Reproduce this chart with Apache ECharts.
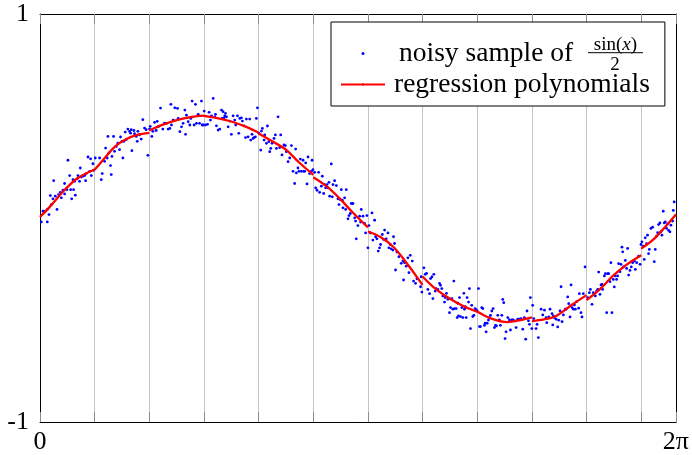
<!DOCTYPE html>
<html><head><meta charset="utf-8">
<script src="https://cdn.jsdelivr.net/npm/echarts@6/dist/echarts.min.js"></script>
<style>html,body{margin:0;padding:0;background:#fff}#c{width:692px;height:455px}</style>
</head><body><div id="c"></div>
<script>
const TWO_PI = 6.283185307179586;
const xTickLabels = { first: '0', last: '2π' };
const yTickLabels = ['-1', '1'];
const seriesNames = ['noisy sample of', 'regression polynomials'];

const sampleA = [[0.013,-0.019],[0.072,-0.019],[0.030,0.033],[0.053,0.033],[0.072,0.042],[0.089,0.017],[0.112,0.066],[0.128,0.094],[0.102,0.110],[0.151,0.107],[0.168,0.042],[0.184,0.115],[0.201,0.126],[0.211,0.099],[0.227,0.136],[0.243,0.118],[0.266,0.139],[0.276,0.283],[0.293,0.208],[0.303,0.139],[0.313,0.094],[0.332,0.139],[0.349,0.112],[0.342,0.180],[0.135,0.183],[0.243,0.169],[0.326,0.188],[0.368,0.192],[0.375,0.208],[0.398,0.245],[0.391,0.180],[0.408,0.201],[0.424,0.205],[0.441,0.208],[0.457,0.218],[0.451,0.183],[0.474,0.299],[0.490,0.229],[0.500,0.290],[0.507,0.208],[0.523,0.266],[0.530,0.234],[0.546,0.294],[0.589,0.294],[0.605,0.188],[0.615,0.218],[0.638,0.278],[0.648,0.343],[0.664,0.294],[0.671,0.400],[0.681,0.319],[0.697,0.257],[0.704,0.213],[0.711,0.302],[0.727,0.400],[0.737,0.327],[0.753,0.351],[0.770,0.367],[0.786,0.335],[0.796,0.397],[0.809,0.376],[0.819,0.294],[0.829,0.376],[0.842,0.421],[0.852,0.384],[0.868,0.436],[0.885,0.425],[0.895,0.416],[0.901,0.433],[0.908,0.330],[0.928,0.429],[0.934,0.413],[0.951,0.400],[0.961,0.376],[0.967,0.425],[0.984,0.408],[1.000,0.387],[1.016,0.482],[1.033,0.441],[1.049,0.433],[1.066,0.307],[1.082,0.436],[1.089,0.449],[1.105,0.400],[1.115,0.425],[1.132,0.469],[1.148,0.429],[1.158,0.474],[1.171,0.449],[1.191,0.539],[1.214,0.436],[1.230,0.465]];

const sampleB = [[1.250,0.464],[1.266,0.436],[1.283,0.439],[1.299,0.456],[1.293,0.557],[1.316,0.480],[1.332,0.540],[1.359,0.537],[1.365,0.488],[1.382,0.423],[1.398,0.447],[1.414,0.464],[1.431,0.529],[1.438,0.410],[1.447,0.504],[1.464,0.472],[1.480,0.456],[1.490,0.488],[1.503,0.573],[1.523,0.456],[1.536,0.557],[1.546,0.464],[1.563,0.508],[1.576,0.464],[1.595,0.573],[1.602,0.456],[1.612,0.456],[1.622,0.524],[1.635,0.456],[1.655,0.459],[1.671,0.518],[1.684,0.480],[1.694,0.501],[1.711,0.586],[1.727,0.496],[1.734,0.508],[1.743,0.452],[1.760,0.431],[1.776,0.436],[1.793,0.529],[1.799,0.488],[1.809,0.521],[1.819,0.491],[1.826,0.501],[1.832,0.513],[1.842,0.496],[1.859,0.447],[1.875,0.475],[1.891,0.410],[1.908,0.501],[1.924,0.480],[1.934,0.456],[1.951,0.501],[1.964,0.415],[1.974,0.488],[1.990,0.491],[2.000,0.475],[2.016,0.452],[2.030,0.394],[2.039,0.485],[2.056,0.398],[2.072,0.485],[2.082,0.382],[2.095,0.410],[2.105,0.390],[2.115,0.394],[2.128,0.398],[2.138,0.488],[2.148,0.540],[2.164,0.415],[2.181,0.333],[2.188,0.426],[2.197,0.439],[2.214,0.382],[2.220,0.407],[2.237,0.366],[2.247,0.451],[2.260,0.374],[2.270,0.325],[2.280,0.341],[2.293,0.366],[2.312,0.390],[2.326,0.407],[2.336,0.341],[2.352,0.496],[2.368,0.345],[2.378,0.407],[2.391,0.309],[2.411,0.358],[2.424,0.355],[2.434,0.325],[2.451,0.276]];

const sampleC = [[2.484,0.355],[2.526,0.338],[2.467,0.294],[2.500,0.229],[2.516,0.169],[2.533,0.221],[2.549,0.245],[2.559,0.229],[2.572,0.289],[2.582,0.229],[2.599,0.283],[2.605,0.229],[2.625,0.270],[2.615,0.229],[2.638,0.167],[2.648,0.299],[2.664,0.218],[2.681,0.229],[2.688,0.283],[2.697,0.237],[2.714,0.224],[2.724,0.148],[2.737,0.136],[2.753,0.224],[2.763,0.126],[2.780,0.156],[2.789,0.205],[2.803,0.120],[2.812,0.164],[2.822,0.148],[2.836,0.164],[2.845,0.148],[2.855,0.175],[2.862,0.107],[2.878,0.265],[2.888,0.104],[2.895,0.164],[2.911,0.183],[2.928,0.159],[2.944,0.094],[2.954,0.066],[2.967,0.090],[2.977,0.139],[2.987,0.087],[2.993,0.050],[3.010,0.099],[3.020,0.042],[3.026,0.139],[3.043,-0.004],[3.053,0.012],[3.066,0.022],[3.076,0.071],[3.092,0.071],[3.109,0.001],[3.118,-0.015],[3.125,-0.102],[3.141,-0.037],[3.158,0.009],[3.168,-0.020],[3.174,0.042],[3.191,0.009],[3.207,-0.027],[3.217,-0.073],[3.230,0.012],[3.240,-0.146],[3.250,-0.037],[3.263,-0.073],[3.280,0.025],[3.289,-0.108],[3.306,-0.011],[3.316,-0.092],[3.329,-0.102],[3.342,-0.162],[3.355,-0.146],[3.365,-0.130],[3.382,-0.081],[3.395,-0.105],[3.405,-0.059],[3.421,-0.102],[3.438,-0.073],[3.447,-0.146],[3.461,-0.130],[3.470,-0.151],[3.487,-0.157],[3.493,-0.092],[3.503,-0.125],[3.513,-0.255],[3.526,-0.167],[3.546,-0.190],[3.569,-0.222],[3.586,-0.211],[3.592,-0.304],[3.602,-0.219],[3.618,-0.236],[3.635,-0.195],[3.645,-0.268],[3.658,-0.183],[3.678,-0.211],[3.691,-0.309],[3.711,-0.320],[3.724,-0.298]];

const sampleD = [[3.760,-0.337],[3.773,-0.363],[3.766,-0.288],[3.793,-0.244],[3.806,-0.276],[3.819,-0.271],[3.832,-0.350],[3.849,-0.371],[3.859,-0.297],[3.872,-0.289],[3.882,-0.395],[3.891,-0.276],[3.905,-0.358],[3.914,-0.346],[3.931,-0.350],[3.947,-0.320],[3.957,-0.330],[3.970,-0.346],[3.980,-0.382],[3.997,-0.412],[4.003,-0.390],[4.016,-0.369],[4.030,-0.398],[4.046,-0.464],[4.056,-0.439],[4.069,-0.395],[4.079,-0.447],[4.089,-0.309],[4.095,-0.444],[4.112,-0.444],[4.122,-0.488],[4.128,-0.418],[4.135,-0.480],[4.145,-0.390],[4.155,-0.483],[4.168,-0.439],[4.178,-0.488],[4.188,-0.369],[4.194,-0.447],[4.201,-0.434],[4.211,-0.488],[4.220,-0.390],[4.234,-0.412],[4.243,-0.346],[4.253,-0.542],[4.266,-0.428],[4.276,-0.483],[4.286,-0.477],[4.299,-0.444],[4.309,-0.451],[4.319,-0.456],[4.332,-0.346],[4.342,-0.532],[4.352,-0.532],[4.365,-0.439],[4.375,-0.444],[4.391,-0.526],[4.398,-0.516],[4.408,-0.558],[4.418,-0.516],[4.431,-0.500],[4.441,-0.488],[4.451,-0.477],[4.464,-0.456],[4.477,-0.444],[4.490,-0.537],[4.500,-0.526],[4.510,-0.529],[4.523,-0.477],[4.539,-0.500],[4.549,-0.526],[4.563,-0.477],[4.572,-0.399],[4.582,-0.415],[4.595,-0.591],[4.605,-0.558],[4.622,-0.488],[4.638,-0.500],[4.648,-0.549],[4.661,-0.500],[4.674,-0.500],[4.688,-0.504],[4.704,-0.537],[4.720,-0.496],[4.737,-0.496],[4.753,-0.493],[4.770,-0.545],[4.786,-0.488],[4.799,-0.594],[4.812,-0.456],[4.826,-0.504],[4.836,-0.521],[4.845,-0.390],[4.859,-0.542],[4.868,-0.428],[4.878,-0.493],[4.901,-0.542],[4.911,-0.521],[4.924,-0.586]];

const sampleE = [[4.951,-0.447],[4.967,-0.475],[4.984,-0.452],[5.000,-0.488],[5.007,-0.513],[5.026,-0.485],[5.039,-0.447],[5.059,-0.469],[5.066,-0.524],[5.072,-0.480],[5.082,-0.488],[5.099,-0.496],[5.115,-0.534],[5.125,-0.501],[5.138,-0.456],[5.148,-0.337],[5.158,-0.508],[5.171,-0.475],[5.191,-0.447],[5.197,-0.447],[5.214,-0.387],[5.224,-0.420],[5.237,-0.485],[5.247,-0.328],[5.257,-0.439],[5.270,-0.447],[5.280,-0.426],[5.289,-0.447],[5.303,-0.410],[5.322,-0.442],[5.329,-0.371],[5.345,-0.464],[5.355,-0.485],[5.368,-0.371],[5.385,-0.240],[5.411,-0.390],[5.428,-0.366],[5.438,-0.350],[5.454,-0.423],[5.467,-0.366],[5.487,-0.382],[5.500,-0.358],[5.510,-0.350],[5.520,-0.265],[5.533,-0.374],[5.543,-0.328],[5.553,-0.325],[5.559,-0.350],[5.576,-0.284],[5.586,-0.273],[5.599,-0.464],[5.609,-0.273],[5.618,-0.273],[5.632,-0.312],[5.641,-0.219],[5.651,-0.464],[5.664,-0.301],[5.674,-0.338],[5.684,-0.284],[5.697,-0.301],[5.707,-0.284],[5.717,-0.224],[5.730,-0.263],[5.740,-0.227],[5.750,-0.143],[5.757,-0.166],[5.763,-0.240],[5.783,-0.208],[5.796,-0.247],[5.806,-0.149],[5.816,-0.280],[5.829,-0.257],[5.842,-0.240],[5.855,-0.219],[5.872,-0.211],[5.882,-0.252],[5.895,-0.219],[5.914,-0.187],[5.928,-0.227],[5.938,-0.130],[5.947,-0.117],[5.961,-0.138],[5.970,-0.203],[5.980,-0.097],[5.993,-0.126],[6.003,-0.084],[6.013,-0.175],[6.020,-0.154],[6.036,-0.051],[6.053,-0.045],[6.069,-0.214],[6.079,-0.154],[6.092,-0.089],[6.102,-0.072],[6.112,-0.032],[6.125,-0.024],[6.135,-0.068],[6.145,-0.084],[6.158,0.033],[6.168,-0.024],[6.178,-0.019],[6.191,-0.051],[6.201,-0.029],[6.211,-0.061],[6.224,-0.068],[6.234,-0.035],[6.250,-0.015],[6.257,0.037],[6.266,0.079]];

const regressionSegments = [
  [[0,0.005],[0.11,0.062],[0.24,0.136],[0.37,0.195],[0.54,0.238]],
  [[0.54,0.236],[0.64,0.294],[0.74,0.350],[0.84,0.384],[0.96,0.407],[1.08,0.417]],
  [[1.08,0.429],[1.20,0.455],[1.35,0.480],[1.50,0.496],[1.62,0.502]],
  [[1.62,0.501],[1.73,0.492],[1.89,0.473],[2.05,0.444],[2.16,0.418]],
  [[2.16,0.414],[2.29,0.377],[2.43,0.335],[2.56,0.272],[2.70,0.212]],
  [[2.70,0.200],[2.83,0.156],[2.96,0.096],[3.09,0.027],[3.24,-0.046]],
  [[3.24,-0.066],[3.36,-0.092],[3.49,-0.141],[3.62,-0.219],[3.78,-0.328]],
  [[3.78,-0.287],[3.89,-0.340],[4.03,-0.390],[4.19,-0.434],[4.32,-0.459]],
  [[4.32,-0.458],[4.46,-0.493],[4.62,-0.510],[4.75,-0.500],[4.86,-0.487]],
  [[4.86,-0.505],[4.98,-0.497],[5.10,-0.480],[5.26,-0.424],[5.40,-0.378]],
  [[5.40,-0.403],[5.53,-0.350],[5.66,-0.284],[5.79,-0.231],[5.94,-0.183]],
  [[5.94,-0.150],[6.05,-0.110],[6.17,-0.048],[6.2832,0.017]]
];

const FONT = 'Liberation Serif';
const LEG_FS = 27.5;
const noisySample = [].concat(sampleA, sampleB, sampleC, sampleD, sampleE);

const chart = echarts.init(document.getElementById('c'), null, { renderer: 'canvas' });

const xLabelFmt = v => (Math.abs(v) < 1e-9 ? xTickLabels.first : (Math.abs(v - TWO_PI) < 1e-6 ? xTickLabels.last : ''));
const axisCommonX = {
  type: 'value', min: 0, max: TWO_PI, interval: 0.54,
  axisLine: { show: true, onZero: false, lineStyle: { color: '#000', width: 1 } },
  axisTick: { show: true, inside: true, length: 10, lineStyle: { color: '#8c8c8c', width: 1 } }
};

const series = [{
  name: seriesNames[0], type: 'scatter', data: noisySample,
  symbol: 'circle', symbolSize: 2.8,
  itemStyle: { color: '#0000ff', opacity: 1 }, z: 2, silent: true
}];
regressionSegments.forEach(seg => {
  series.push({
    name: seriesNames[1], type: 'line', data: seg, smooth: 0.35,
    symbol: 'none', showSymbol: false,
    lineStyle: { color: '#ff0000', width: 2.3 }, itemStyle: { color: '#ff0000' }, z: 3, silent: true
  });
});

chart.setOption({
  animation: false,
  backgroundColor: '#fff',
  grid: { left: 40, right: 15.3, top: 14, bottom: 32, containLabel: false },
  xAxis: [
    Object.assign({}, axisCommonX, {
      position: 'bottom',
      splitLine: { show: true, lineStyle: { color: '#c6c6c6', width: 1 } },
      axisLabel: { show: true, showMinLabel: true, showMaxLabel: true, hideOverlap: false, formatter: xLabelFmt,
        fontFamily: FONT, fontSize: 26, color: '#000', margin: 7 }
    }),
    Object.assign({}, axisCommonX, {
      position: 'top', splitLine: { show: false }, axisLabel: { show: false }
    })
  ],
  yAxis: [
    { type: 'value', min: -1, max: 1, interval: 2, position: 'left',
      axisLine: { show: true, onZero: false, lineStyle: { color: '#000', width: 1 } },
      axisTick: { show: false }, splitLine: { show: false },
      axisLabel: { show: true, showMinLabel: true, showMaxLabel: true,
        formatter: v => (v < 0 ? yTickLabels[0] : yTickLabels[1]),
        fontFamily: FONT, fontSize: 26, color: '#000', margin: 11 } },
    { type: 'value', min: -1, max: 1, interval: 2, position: 'right',
      axisLine: { show: true, onZero: false, lineStyle: { color: '#000', width: 1 } },
      axisTick: { show: false }, splitLine: { show: false }, axisLabel: { show: false } }
  ],
  legend: {
    orient: 'vertical', left: 331, top: 22,
    padding: [16, 15, 6, 9],
    itemWidth: 44, itemHeight: 3, itemGap: 0,
    backgroundColor: '#fff', borderColor: '#000', borderWidth: 1, borderRadius: 0,
    data: [
      { name: seriesNames[0], icon: 'circle' },
      { name: seriesNames[1] }
    ],
    formatter: name => (name === seriesNames[0] ? '{a|' + name + '}' : '{b|' + name + '}'),
    textStyle: {
      fontFamily: FONT, fontSize: LEG_FS, color: '#000', lineHeight: 31,
      rich: {
        a: { fontFamily: FONT, fontSize: LEG_FS, color: '#000', lineHeight: 31, padding: [0, 0, 0, 9] },
        b: { fontFamily: FONT, fontSize: LEG_FS, color: '#000', lineHeight: 31, padding: [0, 0, 0, 4] }
      }
    },
    selectedMode: false, z: 10
  },
  graphic: [
    { type: 'text', x: 615.5, y: 45, z: 20,
      style: { text: '{r|sin(}{i|x}{r|)}', align: 'center', verticalAlign: 'middle',
        rich: { r: { fontFamily: FONT, fontSize: 19, fill: '#000' }, i: { fontFamily: FONT, fontSize: 19, fontStyle: 'italic', fill: '#000' } } } },
    { type: 'line', z: 20, shape: { x1: 588, y1: 52.7, x2: 643, y2: 52.7 }, style: { stroke: '#000', lineWidth: 1 } },
    { type: 'text', x: 615, y: 65, z: 20,
      style: { text: '2', align: 'center', verticalAlign: 'middle', fontFamily: FONT, fontSize: 19, fill: '#000' } }
  ],
  series: series
});
</script>
</body></html>
